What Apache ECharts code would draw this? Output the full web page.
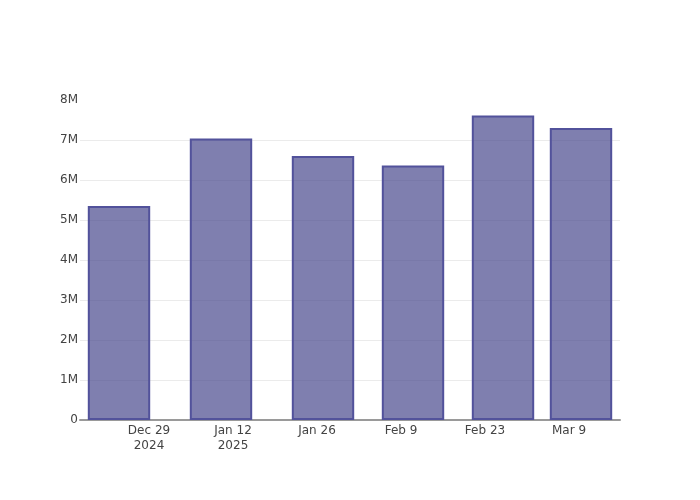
<!DOCTYPE html>
<html>
<head>
<meta charset="utf-8">
<script src="https://cdn.jsdelivr.net/npm/echarts@6/dist/echarts.min.js"></script>
<style>html,body{margin:0;padding:0;background:#fff}#c{width:700px;height:500px}</style>
</head>
<body>
<div id="c"></div>
<script>
const barDates = ["2024-12-24", "2025-01-10", "2025-01-27", "2025-02-11", "2025-02-26", "2025-03-11"];
const barValues = [5350000, 7040000, 6600000, 6360000, 7610000, 7300000];
const tickDates = ["2024-12-29", "2025-01-12", "2025-01-26", "2025-02-09", "2025-02-23", "2025-03-09"];
const tickLabels = ["Dec 29\n2024", "Jan 12\n2025", "Jan 26", "Feb 9", "Feb 23", "Mar 9"];
const yTicks = [0, 1000000, 2000000, 3000000, 4000000, 5000000, 6000000, 7000000, 8000000];
const yTickLabels = ["0", "1M", "2M", "3M", "4M", "5M", "6M", "7M", "8M"];

function toMs(s) { const p = s.split('-').map(Number); return Date.UTC(p[0], p[1] - 1, p[2]); }
const DAY = 86400000;
const tickMs = tickDates.map(toMs);
const xMin = toMs("2024-12-17") + DAY / 2;
const xMax = toMs("2025-03-17") + DAY / 2;

const chart = echarts.init(document.getElementById('c'), null, { renderer: 'canvas' });
const font = '"DejaVu Sans", sans-serif';
const gridColors = yTicks.map((v, i) => i === yTicks.length - 1 ? 'rgba(0,0,0,0)' : '#ebebeb');
chart.setOption({
  animation: false,
  backgroundColor: '#fff',
  grid: { left: 80, right: 80, top: 100, bottom: 80, containLabel: false },
  xAxis: {
    type: 'value',
    min: xMin,
    max: xMax,
    axisLine: { show: true, onZero: false, lineStyle: { color: '#9a9a9a', width: 2 } },
    axisTick: { show: false },
    splitLine: { show: false },
    axisLabel: {
      customValues: tickMs,
      color: '#444',
      fontFamily: font,
      fontSize: 12,
      lineHeight: 15,
      margin: 3,
      hideOverlap: false,
      showMinLabel: true,
      showMaxLabel: true,
      formatter: function (v) {
        const i = tickMs.indexOf(v);
        return i >= 0 ? tickLabels[i] : '';
      }
    }
  },
  yAxis: {
    type: 'value',
    min: 0,
    max: 8000000,
    interval: 1000000,
    axisLine: { show: false },
    axisTick: { show: false },
    splitLine: { show: true, lineStyle: { color: gridColors, width: 1 } },
    axisLabel: {
      color: '#444',
      fontFamily: font,
      fontSize: 12,
      margin: 2,
      padding: [6, 0, 0, 0],
      formatter: function (v) {
        const i = yTicks.indexOf(v);
        return i >= 0 ? yTickLabels[i] : '';
      }
    }
  },
  series: [{
    type: 'bar',
    barWidth: 62.4,
    data: barDates.map((d, i) => [toMs(d), barValues[i]]),
    itemStyle: {
      color: 'rgba(72,72,141,0.7)',
      borderColor: '#52529b',
      borderWidth: 2
    },
    z: 3
  }]
});
</script>
</body>
</html>
